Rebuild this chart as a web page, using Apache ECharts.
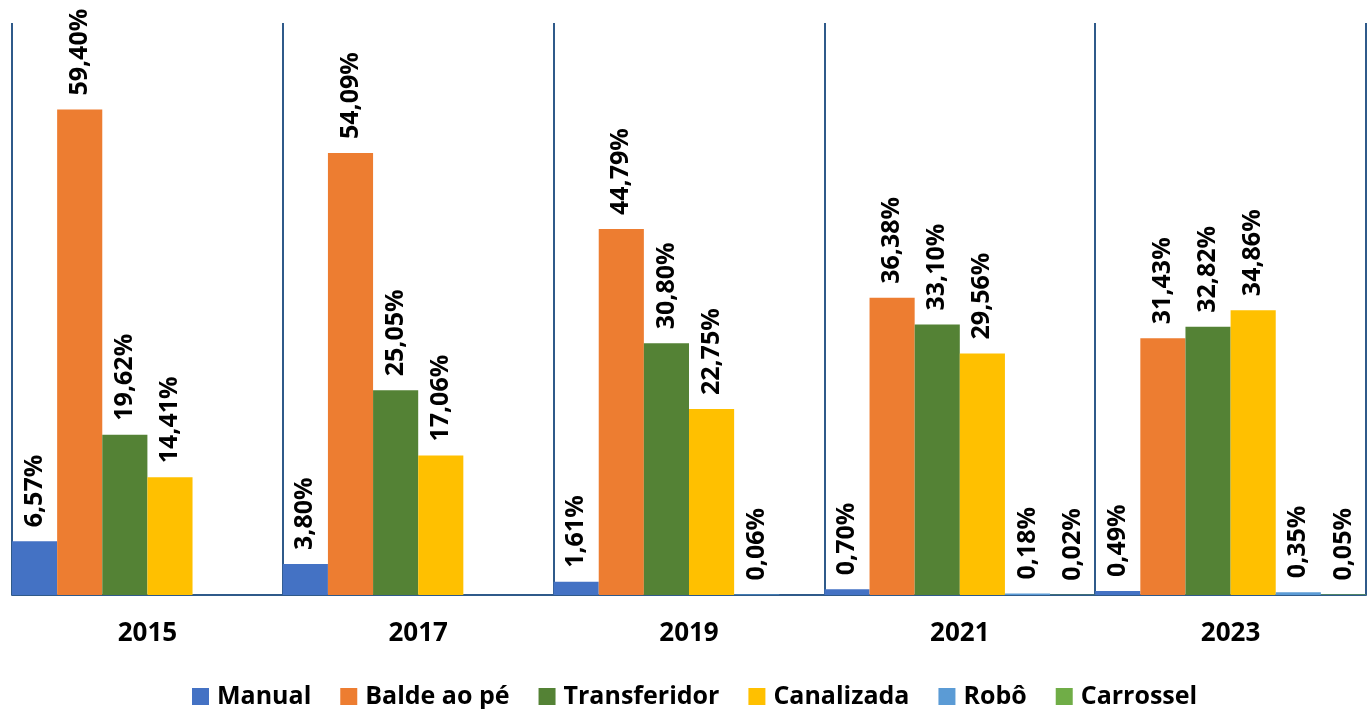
<!DOCTYPE html>
<html>
<head>
<meta charset="utf-8">
<script src="https://cdn.jsdelivr.net/npm/echarts@6/dist/echarts.min.js"></script>
<style>
  html, body { margin: 0; padding: 0; background: #fff; }
  #chart { width: 1367px; height: 709px; }
</style>
</head>
<body>
<div id="chart"></div>
<script>
const years = ['2015', '2017', '2019', '2021', '2023']
const manual = [6.57, 3.80, 1.61, 0.70, 0.49]
const balde = [59.40, 54.09, 44.79, 36.38, 31.43]
const transferidor = [19.62, 25.05, 30.80, 33.10, 32.82]
const canalizada = [14.41, 17.06, 22.75, 29.56, 34.86]
const robo = [null, null, 0.06, 0.18, 0.35]
const carrossel = [null, null, null, 0.02, 0.05]

const seriesNames = ['Manual', 'Balde ao pé', 'Transferidor', 'Canalizada', 'Robô', 'Carrossel']
const seriesData = [manual, balde, transferidor, canalizada, robo, carrossel]
const colors = ['#4472C4', '#ED7D31', '#548235', '#FFC000', '#5B9BD5', '#70AD47']

const font = '"Open Sans", "Noto Sans", sans-serif'

let chart = echarts.init(document.getElementById('chart'))
let option = {
  backgroundColor: '#fff',
  animation: false,
  color: colors,
  grid: {
    left: 12,
    right: 1,
    top: 23,
    bottom: 114
  },
  legend: {
    top: 684,
    left: 192,
    padding: 0,
    icon: 'rect',
    itemWidth: 17,
    itemHeight: 17,
    itemGap: 29,
    textStyle: {
      fontFamily: font,
      fontSize: 25,
      fontWeight: 'bold',
      color: '#000',
      padding: [0, 0, 0, 3]
    },
    data: seriesNames
  },
  xAxis: {
    type: 'category',
    data: years,
    axisLine: { lineStyle: { color: '#2F5A8A', width: 2 } },
    axisTick: { show: false },
    splitLine: {
      show: true,
      interval: 0,
      lineStyle: { color: '#2F5A8A', width: 2 }
    },
    axisLabel: {
      margin: 26,
      fontFamily: font,
      fontSize: 26,
      fontWeight: 'bold',
      color: '#000'
    }
  },
  yAxis: {
    type: 'value',
    min: 0,
    max: 70,
    show: false,
    splitLine: { show: false }
  },
  series: seriesNames.map((name, i) => ({
    name: name,
    type: 'bar',
    data: seriesData[i],
    barGap: '0%',
    barCategoryGap: '0%',
    label: {
      show: true,
      position: 'top',
      rotate: 90,
      align: 'left',
      verticalAlign: 'middle',
      distance: 14,
      fontFamily: font,
      fontSize: 25,
      fontWeight: 'bold',
      color: '#000',
      formatter: p => p.value == null ? '' : p.value.toFixed(2).replace('.', ',') + '%'
    }
  }))
}
chart.setOption(option)
</script>
</body>
</html>
